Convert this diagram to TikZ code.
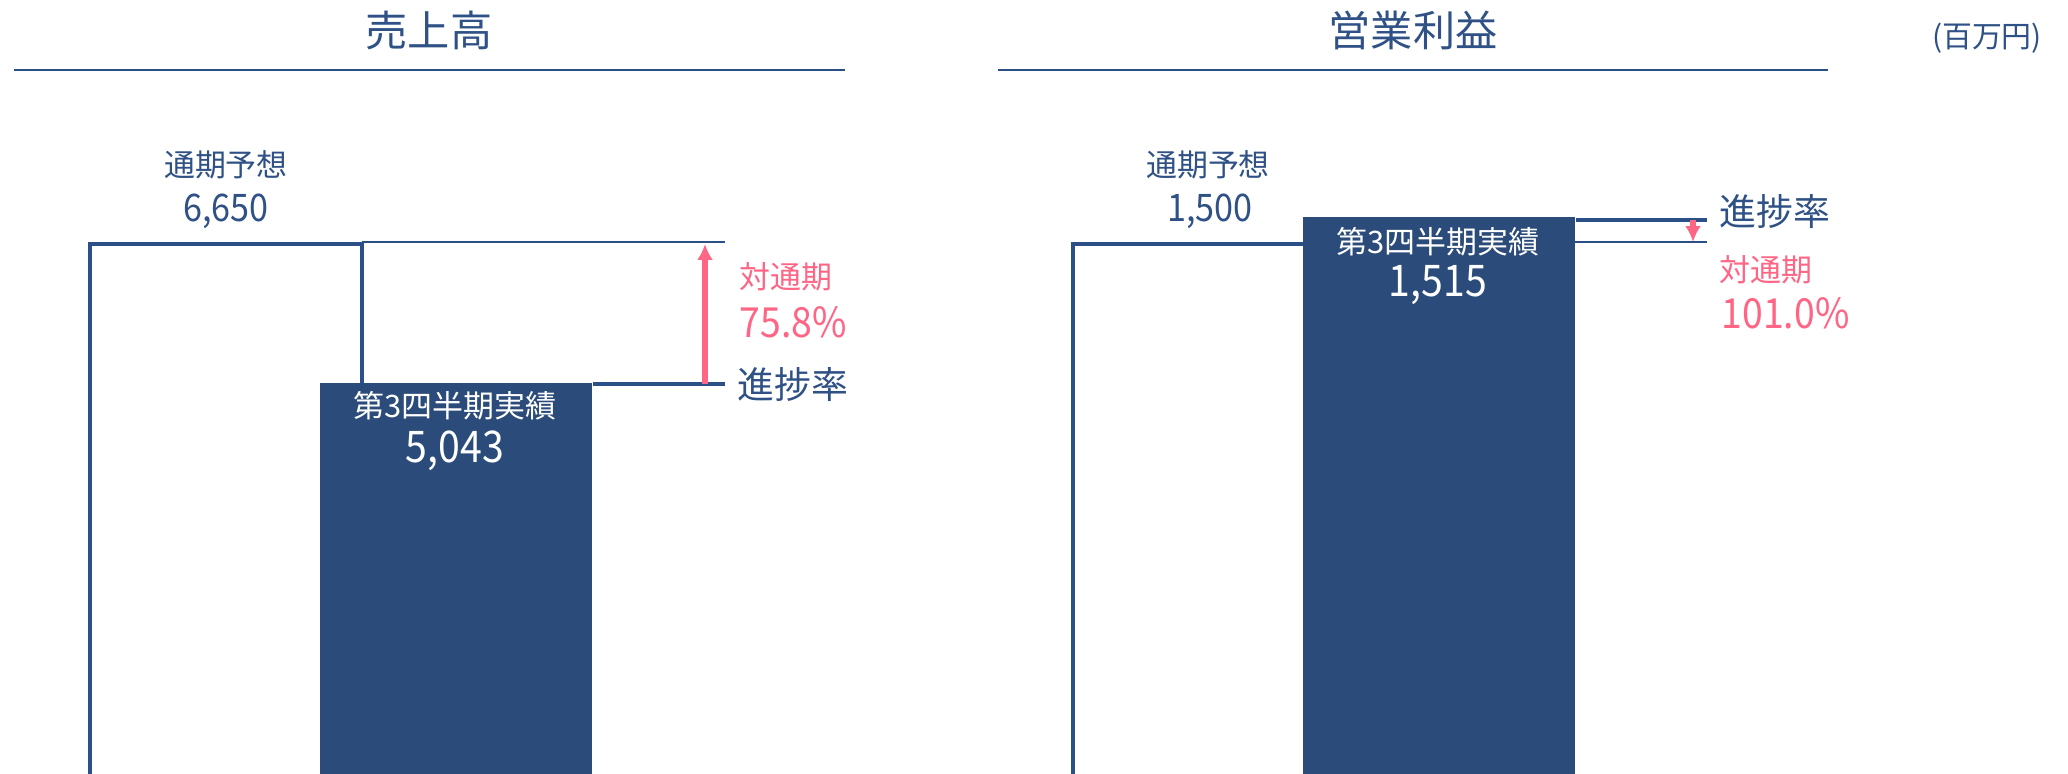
\documentclass[tikz,border=0pt]{standalone}
\usepackage{fontspec}
\setmainfont{Noto Sans CJK JP}
\newfontfamily\numfont{Noto Sans CJK JP}[FakeStretch=0.9]
\usetikzlibrary{positioning,arrows.meta}
\definecolor{barblue}{HTML}{2B4C7A}
\definecolor{lineblue}{HTML}{2B5087}
\definecolor{textblue}{HTML}{2F5185}
\definecolor{ratepink}{HTML}{FF6585}

\begin{document}
\begin{tikzpicture}[x=0.01cm, y=-0.01cm, >={Latex[length=4.5pt,width=4.5pt]}]
        \tikzstyle{title} = [text=textblue, inner sep=0, font=\fontsize{12}{14}\selectfont]
        \tikzstyle{tag} = [text=textblue, inner sep=0, font=\fontsize{8.8}{10}\selectfont]
        \tikzstyle{value} = [text=textblue, inner sep=0, font=\numfont\fontsize{10.8}{12}\selectfont]
        \tikzstyle{inbar} = [text=white, inner sep=0, font=\fontsize{8.8}{10}\selectfont]
        \tikzstyle{invalue} = [text=white, inner sep=0, font=\numfont\fontsize{12.4}{14}\selectfont]
        \tikzstyle{ratio} = [text=ratepink, inner sep=0, anchor=west, font=\fontsize{8.8}{10}\selectfont]
        \tikzstyle{ratiovalue} = [text=ratepink, inner sep=0, anchor=west, font=\numfont\fontsize{11.8}{13}\selectfont]
        \tikzstyle{progress} = [text=textblue, inner sep=0, anchor=west, font=\fontsize{10.5}{12}\selectfont]
        \tikzstyle{bar} = [fill=barblue, inner sep=0, anchor=north west, minimum width=2.72cm, minimum height=6cm]
        \tikzstyle{frame} = [draw=lineblue, line width=1.35pt]
        \tikzstyle{level} = [draw=lineblue, line width=0.45pt]
        \tikzstyle{rule} = [draw=lineblue, line width=0.7pt]
        \tikzstyle{gap} = [->, draw=ratepink, line width=1.5pt]

        \useasboundingbox (0,0) rectangle (2068,774);

        % sales
        \node [title] (sales) at (429,30) {売上高};
        \draw [rule] (14,70) -- (845,70);
        \draw [frame] (90,244) rectangle (362,790);
        \draw [level] (725,242) -| (363,383);
        \node [bar] (sales-bar) at (319,382) {};
        \coordinate (sales-low) at (705,384);
        \coordinate (sales-high) at (705,244);
        \draw [frame] (sales-bar.north east |- sales-low) -- (725,384);
        \node [tag] (sales-plan) at (226,165) {通期予想};
        \node [value] (sales-plan-value) at (226,211) {6,650};
        \node [inbar] (sales-actual) at (455,406) {第3四半期実績};
        \node [invalue] (sales-actual-value) at (455,451) {5,043};
        \draw [gap] (sales-low) -- (sales-high);
        \node [ratio] (sales-ratio) at (739,277) {対通期};
        \node [ratiovalue] (sales-ratio-value) at (739,322) {75.8\%};
        \node [progress] (sales-progress) at (737,385) {進捗率};

        % operating income
        \node [title] (income) at (1413,30) {営業利益};
        \draw [rule] (998,70) -- (1828,70);
        \draw [frame] (1073,244) rectangle (1345,790);
        \draw [level] (1500,242) -- (1707,242);
        \node [bar] (income-bar) at (1302,216) {};
        \coordinate (income-high) at (1693,220);
        \coordinate (income-low) at (1693,242);
        \draw [frame] (income-bar.north east |- income-high) -- (1707,220);
        \node [tag] (income-plan) at (1208,165) {通期予想};
        \node [value] (income-plan-value) at (1210,211) {1,500};
        \node [inbar] (income-actual) at (1438,242) {第3四半期実績};
        \node [invalue] (income-actual-value) at (1438,285) {1,515};
        \draw [gap] (income-high) -- (income-low);
        \node [progress] (income-progress) at (1719,212) {進捗率};
        \node [ratio] (income-ratio) at (1719,270) {対通期};
        \node [ratiovalue] (income-ratio-value) at (1721,313) {101.0\%};

        \node [tag, font=\fontsize{8.5}{10}\selectfont] (unit) at (1987,38) {(百万円)};
\end{tikzpicture}
\end{document}
